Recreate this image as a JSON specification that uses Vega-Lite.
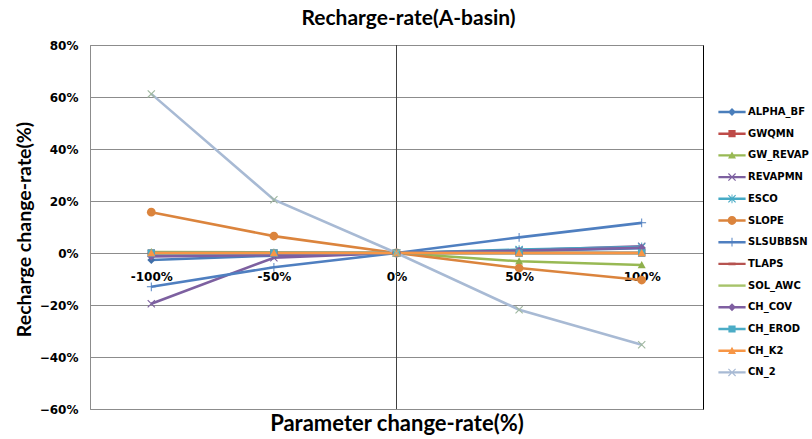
{
  "$schema": "https://vega.github.io/schema/vega-lite/v6.json",
  "width": 613,
  "height": 364,
  "autosize": {"type": "none"},
  "padding": {"left": 90, "top": 45, "right": 109, "bottom": 30},
  "background": "white",
  "title": {"text": "Recharge-rate(A-basin)", "font": "Lato", "fontSize": 21, "fontWeight": "bold", "color": "#000000", "anchor": "middle", "dx": 12, "offset": 10},
  "config": {
    "view": {"stroke": "#8c8c8c", "strokeWidth": 1},
    "axis": {"labelFont": "DejaVu Sans", "labelFontWeight": "bold", "labelFontSize": 12, "labelColor": "#000000", "titleColor": "#000000"}
  },
  "data": {"values": [
    {"series": "ALPHA_BF", "param": "-100%", "value": -0.027},
    {"series": "ALPHA_BF", "param": "-50%", "value": -0.010},
    {"series": "ALPHA_BF", "param": "0%", "value": 0},
    {"series": "ALPHA_BF", "param": "50%", "value": 0.008},
    {"series": "ALPHA_BF", "param": "100%", "value": 0.018},
    {"series": "GWQMN", "param": "-100%", "value": 0},
    {"series": "GWQMN", "param": "-50%", "value": 0},
    {"series": "GWQMN", "param": "0%", "value": 0},
    {"series": "GWQMN", "param": "50%", "value": 0},
    {"series": "GWQMN", "param": "100%", "value": 0},
    {"series": "GW_REVAP", "param": "-100%", "value": 0.004},
    {"series": "GW_REVAP", "param": "-50%", "value": 0.002},
    {"series": "GW_REVAP", "param": "0%", "value": 0},
    {"series": "GW_REVAP", "param": "50%", "value": -0.032},
    {"series": "GW_REVAP", "param": "100%", "value": -0.046},
    {"series": "REVAPMN", "param": "-100%", "value": -0.195},
    {"series": "REVAPMN", "param": "-50%", "value": -0.018},
    {"series": "REVAPMN", "param": "0%", "value": 0},
    {"series": "REVAPMN", "param": "50%", "value": 0.010},
    {"series": "REVAPMN", "param": "100%", "value": 0.026},
    {"series": "ESCO", "param": "-100%", "value": -0.002},
    {"series": "ESCO", "param": "-50%", "value": -0.001},
    {"series": "ESCO", "param": "0%", "value": 0},
    {"series": "ESCO", "param": "50%", "value": 0.013},
    {"series": "ESCO", "param": "100%", "value": 0.023},
    {"series": "SLOPE", "param": "-100%", "value": 0.157},
    {"series": "SLOPE", "param": "-50%", "value": 0.065},
    {"series": "SLOPE", "param": "0%", "value": 0},
    {"series": "SLOPE", "param": "50%", "value": -0.058},
    {"series": "SLOPE", "param": "100%", "value": -0.104},
    {"series": "SLSUBBSN", "param": "-100%", "value": -0.130},
    {"series": "SLSUBBSN", "param": "-50%", "value": -0.055},
    {"series": "SLSUBBSN", "param": "0%", "value": 0},
    {"series": "SLSUBBSN", "param": "50%", "value": 0.060},
    {"series": "SLSUBBSN", "param": "100%", "value": 0.116},
    {"series": "TLAPS", "param": "-100%", "value": 0},
    {"series": "TLAPS", "param": "-50%", "value": 0},
    {"series": "TLAPS", "param": "0%", "value": 0},
    {"series": "TLAPS", "param": "50%", "value": 0},
    {"series": "TLAPS", "param": "100%", "value": 0},
    {"series": "SOL_AWC", "param": "-100%", "value": 0},
    {"series": "SOL_AWC", "param": "-50%", "value": 0},
    {"series": "SOL_AWC", "param": "0%", "value": 0},
    {"series": "SOL_AWC", "param": "50%", "value": 0},
    {"series": "SOL_AWC", "param": "100%", "value": 0},
    {"series": "CH_COV", "param": "-100%", "value": -0.013},
    {"series": "CH_COV", "param": "-50%", "value": -0.008},
    {"series": "CH_COV", "param": "0%", "value": 0},
    {"series": "CH_COV", "param": "50%", "value": 0.009},
    {"series": "CH_COV", "param": "100%", "value": 0.020},
    {"series": "CH_EROD", "param": "-100%", "value": 0},
    {"series": "CH_EROD", "param": "-50%", "value": 0},
    {"series": "CH_EROD", "param": "0%", "value": 0},
    {"series": "CH_EROD", "param": "50%", "value": 0},
    {"series": "CH_EROD", "param": "100%", "value": 0},
    {"series": "CH_K2", "param": "-100%", "value": 0},
    {"series": "CH_K2", "param": "-50%", "value": 0},
    {"series": "CH_K2", "param": "0%", "value": 0},
    {"series": "CH_K2", "param": "50%", "value": 0},
    {"series": "CH_K2", "param": "100%", "value": 0},
    {"series": "CN_2", "param": "-100%", "value": 0.612},
    {"series": "CN_2", "param": "-50%", "value": 0.205},
    {"series": "CN_2", "param": "0%", "value": 0},
    {"series": "CN_2", "param": "50%", "value": -0.218},
    {"series": "CN_2", "param": "100%", "value": -0.353}
  ]},
  "resolve": {"scale": {"color": "independent", "shape": "independent"}, "axis": {"y": "independent"}},
  "layer": [
    {
      "mark": {"type": "rule", "color": "#404040", "strokeWidth": 1},
      "encoding": {
        "x": {"datum": "0%", "type": "ordinal", "sort": ["-100%", "-50%", "0%", "50%", "100%"], "scale": {"type": "point", "padding": 0.5},
              "axis": {"orient": "bottom", "offset": -156, "domain": false, "ticks": false, "grid": false, "labelAngle": 0, "labelAlign": "center", "labelBaseline": "top", "labelPadding": 18, "labelOverlap": false,
                       "title": "Parameter change-rate(%)", "titleFont": "Lato", "titleFontSize": 22, "titleFontWeight": "bold", "titleY": 160, "titleBaseline": "top"}}
      }
    },
    {
      "mark": {"type": "line", "strokeWidth": 2.6},
      "encoding": {
        "x": {"field": "param", "type": "ordinal", "sort": ["-100%", "-50%", "0%", "50%", "100%"], "scale": {"type": "point", "padding": 0.5},
              "axis": {"orient": "bottom", "offset": -156, "domain": false, "ticks": false, "grid": false, "labelAngle": 0, "labelAlign": "center", "labelBaseline": "top", "labelPadding": 18, "labelOverlap": false,
                       "title": "Parameter change-rate(%)", "titleFont": "Lato", "titleFontSize": 22, "titleFontWeight": "bold", "titleY": 160, "titleBaseline": "top"}},
        "y": {"field": "value", "type": "quantitative", "scale": {"domain": [-0.6, 0.8], "nice": false, "zero": false},
              "axis": {"values": [-0.6, -0.4, -0.2, 0, 0.2, 0.4, 0.6, 0.8], "format": ".0%", "domain": true, "domainColor": "#8c8c8c", "ticks": false, "labelPadding": 12,
                       "grid": true, "gridColor": "#8c8c8c", "gridWidth": 1, "gridOpacity": 1,
                       "title": "Recharge change-rate(%)", "titleFont": "Lato", "titleFontSize": 19.5, "titleFontWeight": "bold", "titleX": -66, "titleY": 184, "titleBaseline": "middle", "titleAlign": "center", "titleAngle": -90}},
        "color": {"field": "series", "type": "nominal", "legend": null,
                  "scale": {"domain": ["ALPHA_BF", "GWQMN", "GW_REVAP", "REVAPMN", "ESCO", "SLOPE", "SLSUBBSN", "TLAPS", "SOL_AWC", "CH_COV", "CH_EROD", "CH_K2", "CN_2"],
                            "range": ["#4A7EBB", "#BE4B48", "#98B954", "#7D60A0", "#46AAC5", "#DB843D", "#4F7FC0", "#B65350", "#A7C36A", "#7F5FA1", "#4BACC6", "#F79646", "#A8BAD4"]}},
        "detail": {"field": "series"}
      }
    },
    {
      "mark": {"type": "point", "filled": true, "size": 64, "opacity": 1, "strokeWidth": 0},
      "encoding": {
        "x": {"field": "param", "type": "ordinal", "sort": ["-100%", "-50%", "0%", "50%", "100%"], "scale": {"type": "point", "padding": 0.5},
              "axis": {"orient": "bottom", "offset": -156, "domain": false, "ticks": false, "grid": false, "labelAngle": 0, "labelAlign": "center", "labelBaseline": "top", "labelPadding": 18, "labelOverlap": false,
                       "title": "Parameter change-rate(%)", "titleFont": "Lato", "titleFontSize": 22, "titleFontWeight": "bold", "titleY": 160, "titleBaseline": "top"}},
        "y": {"field": "value", "type": "quantitative", "scale": {"domain": [-0.6, 0.8], "nice": false, "zero": false},
              "axis": {"orient": "right", "labels": false, "ticks": false, "grid": false, "domain": true, "domainColor": "#000000", "title": null}},
        "color": {"field": "series", "type": "nominal", "legend": null,
                  "scale": {"domain": ["ALPHA_BF", "GWQMN", "GW_REVAP", "REVAPMN", "ESCO", "SLOPE", "SLSUBBSN", "TLAPS", "SOL_AWC", "CH_COV", "CH_EROD", "CH_K2", "CN_2"],
                            "range": ["#3F6FA8", "#B0413E", "#8FB04C", "#7D60A0", "#46AAC5", "#DB843D", "#4F7FC0", "#B65350", "#A7C36A", "#7F5FA1", "#4BACC6", "#F79646", "#A0B8A0"]}},
        "shape": {"field": "series", "type": "nominal", "legend": null,
                  "scale": {"domain": ["ALPHA_BF", "GWQMN", "GW_REVAP", "REVAPMN", "ESCO", "SLOPE", "SLSUBBSN", "TLAPS", "SOL_AWC", "CH_COV", "CH_EROD", "CH_K2", "CN_2"],
                            "range": [
                              "M0,-1L1,0L0,1L-1,0Z",
                              "M-0.9,-0.9H0.9V0.9H-0.9Z",
                              "M0,-1L1,0.8H-1Z",
                              "M-1,-0.8L-0.8,-1L1,0.8L0.8,1Z M0.8,-1L1,-0.8L-0.8,1L-1,0.8Z",
                              "M-1,-0.8L-0.8,-1L1,0.8L0.8,1Z M0.8,-1L1,-0.8L-0.8,1L-1,0.8Z M-0.12,-1.1H0.12V1.1H-0.12Z",
                              "M-1.1,0A1.1,1.1,0,1,1,1.1,0A1.1,1.1,0,1,1,-1.1,0Z",
                              "M-0.12,-1.1H0.12V1.1H-0.12Z M-1.1,-0.12H1.1V0.12H-1.1Z",
                              "M-0.9,-0.35H0.9V0.35H-0.9Z",
                              "M-0.01,-0.01H0.01V0.01H-0.01Z",
                              "M0,-1L1,0L0,1L-1,0Z",
                              "M-0.9,-0.9H0.9V0.9H-0.9Z",
                              "M0,-1L1,0.8H-1Z",
                              "M-1,-0.8L-0.8,-1L1,0.8L0.8,1Z M0.8,-1L1,-0.8L-0.8,1L-1,0.8Z"
                            ]}}
      }
    },
    {
      "transform": [{"filter": "false"}],
      "mark": {"type": "point", "filled": true, "size": 64, "opacity": 1, "strokeWidth": 0},
      "encoding": {
        "color": {"field": "series", "type": "nominal",
                  "scale": {"domain": ["ALPHA_BF", "GWQMN", "GW_REVAP", "REVAPMN", "ESCO", "SLOPE", "SLSUBBSN", "TLAPS", "SOL_AWC", "CH_COV", "CH_EROD", "CH_K2", "CN_2"],
                            "range": ["#4A7EBB", "#BE4B48", "#98B954", "#7D60A0", "#46AAC5", "#DB843D", "#4F7FC0", "#B65350", "#A7C36A", "#7F5FA1", "#4BACC6", "#F79646", "#A8BAD4"]},
                  "legend": {"orient": "none", "legendX": 637, "legendY": 62, "title": null, "symbolSize": 64, "symbolStrokeWidth": 0, "labelFont": "DejaVu Sans", "labelFontWeight": "bold", "labelFontSize": 10, "labelColor": "#000000", "labelOffset": 11, "rowPadding": 11.7, "padding": 0}},
        "shape": {"field": "series", "type": "nominal",
                  "scale": {"domain": ["ALPHA_BF", "GWQMN", "GW_REVAP", "REVAPMN", "ESCO", "SLOPE", "SLSUBBSN", "TLAPS", "SOL_AWC", "CH_COV", "CH_EROD", "CH_K2", "CN_2"],
                            "range": [
                              "M-3.4,-0.3H3.4V0.3H-3.4Z M0,-1L1,0L0,1L-1,0Z",
                              "M-3.4,-0.3H3.4V0.3H-3.4Z M-0.9,-0.9H0.9V0.9H-0.9Z",
                              "M-3.4,-0.3H3.4V0.3H-3.4Z M0,-1L1,0.8H-1Z",
                              "M-3.4,-0.3H3.4V0.3H-3.4Z M-1,-0.8L-0.8,-1L1,0.8L0.8,1Z M0.8,-1L1,-0.8L-0.8,1L-1,0.8Z",
                              "M-3.4,-0.3H3.4V0.3H-3.4Z M-1,-0.8L-0.8,-1L1,0.8L0.8,1Z M0.8,-1L1,-0.8L-0.8,1L-1,0.8Z M-0.12,-1.1H0.12V1.1H-0.12Z",
                              "M-3.4,-0.3H3.4V0.3H-3.4Z M-1.1,0A1.1,1.1,0,1,1,1.1,0A1.1,1.1,0,1,1,-1.1,0Z",
                              "M-3.4,-0.3H3.4V0.3H-3.4Z M-0.12,-1.1H0.12V1.1H-0.12Z",
                              "M-3.4,-0.3H3.4V0.3H-3.4Z M-0.9,-0.35H0.9V0.35H-0.9Z",
                              "M-3.4,-0.3H3.4V0.3H-3.4Z",
                              "M-3.4,-0.3H3.4V0.3H-3.4Z M0,-1L1,0L0,1L-1,0Z",
                              "M-3.4,-0.3H3.4V0.3H-3.4Z M-0.9,-0.9H0.9V0.9H-0.9Z",
                              "M-3.4,-0.3H3.4V0.3H-3.4Z M0,-1L1,0.8H-1Z",
                              "M-3.4,-0.3H3.4V0.3H-3.4Z M-1,-0.8L-0.8,-1L1,0.8L0.8,1Z M0.8,-1L1,-0.8L-0.8,1L-1,0.8Z"
                            ]},
                  "legend": {"orient": "none", "legendX": 637, "legendY": 62, "title": null, "symbolSize": 64, "symbolStrokeWidth": 0, "labelFont": "DejaVu Sans", "labelFontWeight": "bold", "labelFontSize": 10, "labelColor": "#000000", "labelOffset": 11, "rowPadding": 11.7, "padding": 0}}
      }
    }
  ]
}
